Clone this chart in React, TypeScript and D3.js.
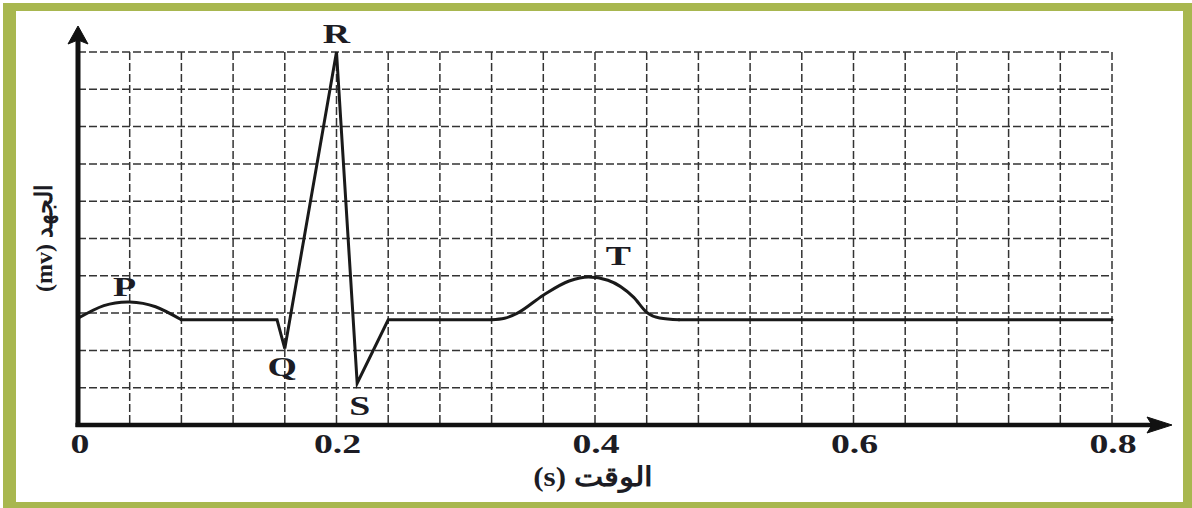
import React from "react";
import * as d3 from "d3";

// ---- data (x in seconds, y in grid units) ----
const xTicks = [0, 0.2, 0.4, 0.6, 0.8];
const xTickLabels = ["0", "0.2", "0.4", "0.6", "0.8"];
const gridX = d3.range(1, 21).map((i) => i * 0.04);
const gridY = d3.range(1, 11);
const pWave: [number, number][] = [
  [0, 2.86], [0.02, 3.2], [0.04, 3.3], [0.06, 3.17], [0.08, 2.82],
];
const qrsSegment: [number, number][] = [
  [0.08, 2.82], [0.154, 2.82], [0.16, 2.05], [0.2, 10], [0.216, 1.12], [0.24, 2.82], [0.32, 2.82],
];
const tWave: [number, number][] = [
  [0.32, 2.82], [0.33, 2.86], [0.34, 3.0], [0.36, 3.48], [0.38, 3.86], [0.395, 3.97],
  [0.41, 3.88], [0.43, 3.42], [0.44, 3.02], [0.45, 2.87], [0.465, 2.82],
];
const restSegment: [number, number][] = [[0.465, 2.82], [0.8, 2.82]];
const waveLabels = [
  { text: "P", x: 0.036, y: 3.45 },
  { text: "Q", x: 0.158, y: 1.32 },
  { text: "R", x: 0.2, y: 10.25 },
  { text: "S", x: 0.218, y: 0.26 },
  { text: "T", x: 0.418, y: 4.28 },
];
const xTitle = "(s) الوقت";
const yTitle = "(mv) الجهد";

const W = 1192;
const H = 508;
const x = d3.scaleLinear().domain([0, 0.8]).range([78, 1112]);
const y = d3.scaleLinear().domain([0, 10]).range([425, 52]);

const linear = d3.line<[number, number]>().x((d) => x(d[0])).y((d) => y(d[1]));
const smooth = d3
  .line<[number, number]>()
  .x((d) => x(d[0]))
  .y((d) => y(d[1]))
  .curve(d3.curveMonotoneX);
const natural = d3
  .line<[number, number]>()
  .x((d) => x(d[0]))
  .y((d) => y(d[1]))
  .curve(d3.curveNatural);

const textColor = "#1c1c24";
const serif = "'Liberation Serif', 'DejaVu Serif', serif";
const SX = 1.4;

function StretchText({ tx, ty, children, size = 27 }: any) {
  return (
    <text
      transform={`translate(${tx},${ty}) scale(${SX},1)`}
      textAnchor="middle"
      fontFamily={serif}
      fontWeight="bold"
      fontSize={size}
      fill={textColor}
    >
      {children}
    </text>
  );
}

export default function App() {
  const x0 = x(0);
  const y0 = y(0);
  return (
    <svg
      width={W}
      height={H}
      style={{ position: "absolute", left: 0, top: 0, background: "#fff" }}
    >
      {/* frame */}
      <rect x={3} y={3} width={W - 3} height={H - 3} fill="#a8b74f" />
      <rect x={16} y={11} width={1167} height={491} fill="#fff" />

      {/* grid */}
      <g stroke="#333" strokeWidth={1.5} strokeDasharray="8,3">
        {gridY.map((g) => (
          <line key={"h" + g} x1={x0} x2={x(0.8)} y1={y(g)} y2={y(g)} />
        ))}
        {gridX.map((g, i) => (
          <line key={"v" + i} x1={x(g)} x2={x(g)} y1={y(10)} y2={y0} />
        ))}
      </g>

      {/* waveform */}
      <g fill="none" stroke="#1a1a1a" strokeWidth={3} strokeLinejoin="miter" strokeLinecap="round">
        <path d={natural(pWave) || ""} />
        <path d={linear(qrsSegment) || ""} />
        <path d={smooth(tWave) || ""} />
        <path d={linear(restSegment) || ""} />
      </g>

      {/* axes */}
      <g fill="#111" stroke="#111">
        <line x1={x0} x2={x0} y1={y0 + 2} y2={40} strokeWidth={5} />
        <path d={`M${x0},26 L${x0 + 10},44 L${x0},40 L${x0 - 10},44 Z`} strokeWidth={1} />
        <line x1={x0 - 2.5} x2={1152} y1={y0} y2={y0} strokeWidth={4.5} />
        <path d={`M1172,${y0} L1147,${y0 - 8} L1152,${y0} L1147,${y0 + 8} Z`} strokeWidth={1} />
      </g>

      {/* tick labels */}
      {xTicks.map((t, i) => (
        <StretchText key={t} tx={x(t) + (i === 0 ? 2 : 1)} ty={453}>
          {xTickLabels[i]}
        </StretchText>
      ))}

      {/* wave labels */}
      {waveLabels.map((l) => (
        <StretchText key={l.text} tx={x(l.x)} ty={y(l.y)}>
          {l.text}
        </StretchText>
      ))}

      {/* axis titles */}
      <text
        transform="translate(593,486) scale(1.15,1)"
        textAnchor="middle"
        fontFamily={serif}
        fontWeight="bold"
        fontSize={27}
        fill={textColor}
      >
        {xTitle}
      </text>
      <text
        transform="translate(52,238) rotate(-90)"
        textAnchor="middle"
        fontFamily={serif}
        fontWeight="bold"
        fontSize={24}
        fill={textColor}
      >
        {yTitle}
      </text>
    </svg>
  );
}
